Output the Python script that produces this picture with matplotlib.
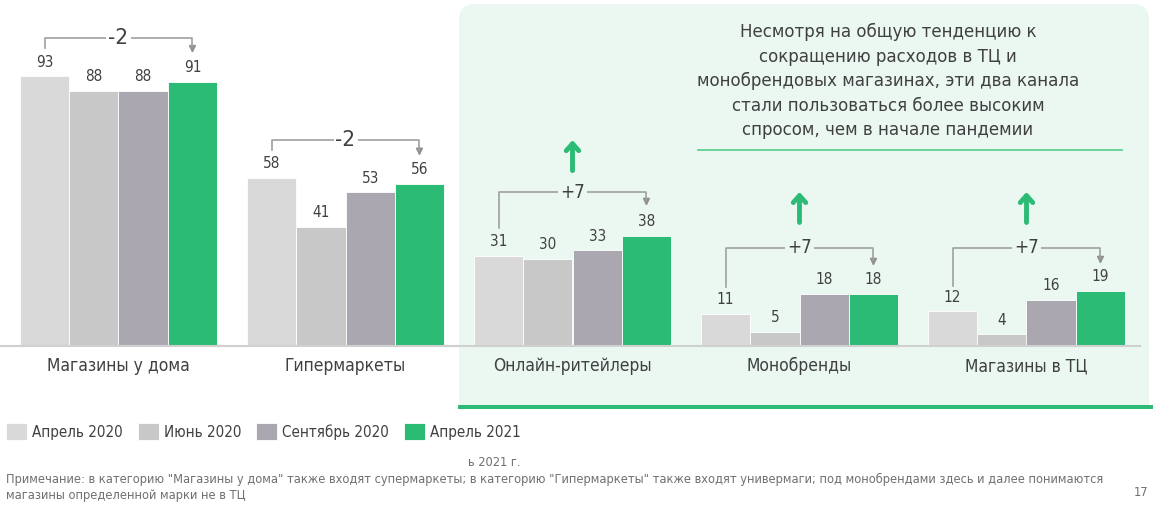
import matplotlib
matplotlib.use("Agg")
import matplotlib.pyplot as plt
from matplotlib.patches import FancyBboxPatch, Rectangle

categories = ["Магазины у дома", "Гипермаркеты", "Онлайн-ритейлеры", "Монобренды", "Магазины в ТЦ"]
series = ["Апрель 2020", "Июнь 2020", "Сентябрь 2020", "Апрель 2021"]
apr2020 = [93, 58, 31, 11, 12]
jun2020 = [88, 41, 30, 5, 4]
sep2020 = [88, 53, 33, 18, 16]
apr2021 = [91, 56, 38, 18, 19]
changes = ["-2", "-2", "+7", "+7", "+7"]
colors = ["#d9d9d9", "#c8c8c8", "#aaa7b0", "#2bbb74"]

TXT = "#404040"
GREEN = "#2bbb74"
plt.rcParams['font.family'] = ['DejaVu Sans']
plt.rcParams['font.stretch'] = 'condensed'

fig = plt.figure(figsize=(11.53, 5.18), dpi=100)
ax = fig.add_axes([0, 0, 1, 1])
# 1 x-unit = 227 px, 1 y-unit = 2.9 px, baseline at 346 px from top
ax.set_xlim(-118.5 / 227, (1153 - 118.5) / 227)
ax.set_ylim(-(518 - 346) / 2.9, 346 / 2.9)
ax.axis("off")

def px(x):
    return (x - 118.5) / 227

def py(y):
    return (346 - y) / 2.9

# shaded panel: rounded top, square bottom
ax.add_patch(FancyBboxPatch((px(459), py(380)), px(1149) - px(459), py(4) - py(380),
                            boxstyle="round,pad=0,rounding_size=0.07", fc="#ebf8f1", ec="none",
                            mutation_aspect=227 / 2.9, zorder=0))
ax.add_patch(Rectangle((px(459), py(406)), px(1149) - px(459), py(360) - py(406),
                       fc="#ebf8f1", ec="none", zorder=0))
ax.add_patch(Rectangle((px(458), py(409)), px(1153) - px(458), py(405) - py(409),
                       fc=GREEN, ec="none", zorder=1, clip_on=False))

w = 49.3 / 227
data = [apr2020, jun2020, sep2020, apr2021]
for i, (vals, c, lab) in enumerate(zip(data, colors, series)):
    xs = [g + (i - 1.5) * w for g in range(len(categories))]
    ax.bar(xs, vals, width=w, color=c, edgecolor="white", linewidth=0.6, label=lab, zorder=2)
    for x, v in zip(xs, vals):
        ax.text(x, v + 2.3, str(v), ha="center", va="bottom", fontsize=11, color=TXT)

ax.plot([px(0), px(1140)], [0, 0], color="#d0d0d0", lw=1.5, zorder=3)

for g, cat in enumerate(categories):
    ax.text(g, py(366), cat, ha="center", va="center", fontsize=12.5, color=TXT)

# brackets: (y of bar, y of left end, y of arrow tip)
brackets = [(106.2, 102.8, 101.0), (71.0, 67.6, 65.6), (53.1, 40.7, 48.3),
            (33.8, 20.3, 27.6), (33.8, 20.7, 28.3)]
for g, (yb, yl, ya) in enumerate(brackets):
    x0 = g - 1.5 * w
    x1 = g + 1.5 * w
    ax.plot([x0, x0, x1, x1], [yl, yb, yb, ya + 2], color="#a0a0a0", lw=1.2, zorder=4)
    ax.annotate("", xy=(x1, ya), xytext=(x1, ya + 2.5),
                arrowprops=dict(arrowstyle="-|>", color="#909090", lw=1.2,
                                mutation_scale=10, shrinkA=0, shrinkB=0))
    ax.text(g, yb, changes[g], ha="center", va="center", fontsize=16 if g < 2 else 13.5,
            color=TXT, bbox=dict(fc="white" if g < 2 else "#ebf8f1", ec="none", pad=1.5), zorder=5)

# green up arrows
for g, (y0, y1) in zip([2, 3, 4], [(60.5, 71.0), (42.6, 53.1), (42.6, 53.1)]):
    ax.annotate("", xy=(g, y1), xytext=(g, y0),
                arrowprops=dict(arrowstyle="->,head_length=0.5,head_width=0.45", color=GREEN,
                                lw=3.5, shrinkA=0, shrinkB=0, capstyle="round"))

note = ("Несмотря на общую тенденцию к\nсокращению расходов в ТЦ и\n"
        "монобрендовых магазинах, эти два канала\nстали пользоваться более высоким\n"
        "спросом, чем в начале пандемии")
ax.text(px(888), py(81), note, ha="center", va="center", fontsize=13.3, color=TXT,
        linespacing=1.45)
ax.plot([px(698), px(1122)], [py(150), py(150)], color="#5fd093", lw=1.3)

leg = ax.legend(loc="lower left", bbox_to_anchor=(0.003, (518 - 443) / 518), ncol=4, frameon=False,
                fontsize=10.9, handlelength=1.35, handleheight=1.35, handletextpad=0.35,
                columnspacing=1.0, borderaxespad=0, borderpad=0.2)
for t in leg.get_texts():
    t.set_color(TXT)

FN = "#707070"
fig.text(468 / 1153, 1 - 463 / 518, "ь 2021 г.", fontsize=9.2, color=FN, va="center")
fig.text(6 / 1153, 1 - 479 / 518,
         'Примечание: в категорию "Магазины у дома" также входят супермаркеты; в категорию "Гипермаркеты" '
         'также входят универмаги; под монобрендами здесь и далее понимаются',
         fontsize=9.2, color=FN, va="center")
fig.text(6 / 1153, 1 - 496 / 518, "магазины определенной марки не в ТЦ",
         fontsize=9.2, color=FN, va="center")
fig.text(1148 / 1153, 1 - 493 / 518, "17", fontsize=9.2, color=FN, va="center", ha="right")

fig.savefig("out.png", dpi=100)
